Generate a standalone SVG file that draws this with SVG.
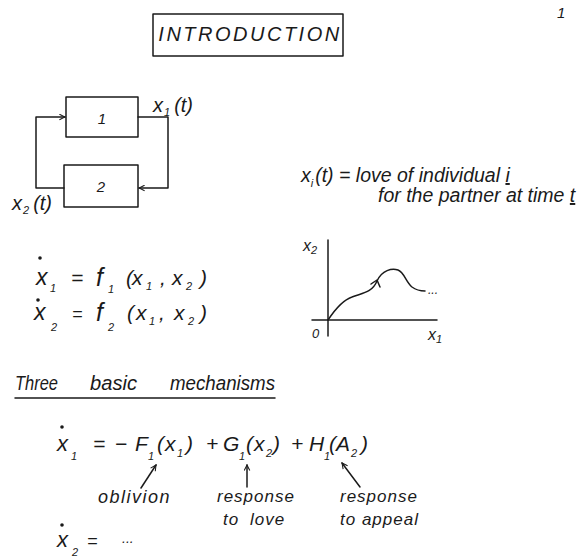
<svg xmlns="http://www.w3.org/2000/svg" width="582" height="558" viewBox="0 0 582 558">
<style>
.t{font-family:"Liberation Sans",Arial,sans-serif;font-style:italic;fill:#1a1a1a;}
.b{font-size:21px;}
.s{font-size:11px;}
.m{font-size:15px;}
.a{font-size:17px;letter-spacing:1px;}
.ln{fill:none;stroke:#1a1a1a;stroke-width:1.5;stroke-linecap:round;stroke-linejoin:round;}
.d{fill:#1a1a1a;}
</style>
<defs>
<marker id="ah" viewBox="0 0 10 10" refX="9" refY="5" markerWidth="7" markerHeight="7" markerUnits="userSpaceOnUse" orient="auto">
<path d="M1,1 L9,5 L1,9" fill="none" stroke="#1a1a1a" stroke-width="1.5"/>
</marker>
</defs>
<rect width="582" height="558" fill="#fff"/>

<g id="title">
<rect x="153" y="14" width="190" height="42" class="ln"/>
<text x="250" y="41" text-anchor="middle" class="t" font-size="20" letter-spacing="2.5">INTRODUCTION</text>
</g>
<text x="557" y="18" class="t" font-size="15">1</text>

<g id="box1">
<rect x="66" y="97" width="72" height="40" class="ln"/>
<text x="102" y="124" text-anchor="middle" class="t m">1</text>
</g>
<g id="box2">
<rect x="64" y="165" width="74" height="42" class="ln"/>
<text x="101" y="192" text-anchor="middle" class="t m">2</text>
</g>
<g id="connectors">
<path d="M138,117 H168 V188 H139" class="ln" marker-end="url(#ah)"/>
<path d="M64,188 H36 V117 H65" class="ln" marker-end="url(#ah)"/>
</g>
<g id="labels">
<text x="153" y="112" class="t" font-size="20">x<tspan class="s" dy="4" dx="1">1</tspan><tspan dy="-4" dx="4">(t)</tspan></text>
<text x="12" y="210" class="t" font-size="20">x<tspan class="s" dy="4" dx="1">2</tspan><tspan dy="-4" dx="4">(t)</tspan></text>
</g>

<text x="301" y="182" class="t" font-size="19.5">x<tspan class="s" dy="5">i</tspan><tspan dy="-5" dx="2">(t) = love of individual </tspan><tspan text-decoration="underline">i</tspan></text>
<text x="378" y="202" class="t" font-size="19.5">for the partner at time <tspan text-decoration="underline">t</tspan></text>

<g id="eqs">
<circle cx="40" cy="258" r="1.8" class="d"/>
<text x="36" y="285" class="t" font-size="23">x</text><text x="50" y="292" class="t s">1</text>
<text x="71" y="285" class="t b">=</text>
<text x="96" y="286" class="t" font-size="25">f</text><text x="108" y="293" class="t s">1</text>
<text x="126" y="285" class="t b">(</text>
<text x="132" y="285" class="t b">x</text><text x="146" y="290" class="t s">1</text>
<text x="160" y="285" class="t b">,</text>
<text x="172" y="285" class="t b">x</text><text x="186" y="290" class="t s">2</text>
<text x="200" y="285" class="t b">)</text>
<circle cx="38" cy="300" r="1.8" class="d"/>
<text x="34" y="320" class="t" font-size="23">x</text><text x="51" y="331" class="t s">2</text>
<text x="72" y="320" class="t" font-size="18">=</text>
<text x="96" y="321" class="t" font-size="25">f</text><text x="108" y="331" class="t s">2</text>
<text x="127" y="320" class="t b">(</text>
<text x="136" y="320" class="t b">x</text><text x="149" y="325" class="t s">1</text>
<text x="159" y="320" class="t b">,</text>
<text x="174" y="320" class="t b">x</text><text x="188" y="325" class="t s">2</text>
<text x="200" y="320" class="t b">)</text>
</g>

<g id="graph">
<path d="M328,240 V336" class="ln"/>
<path d="M312,320 H437" class="ln"/>
<path d="M328,320 C336,308 343,300 352,297 C362,293 372,293 377,281 C382,270 392,268 398,270 C404,272 406,282 412,287 C416,290 420,291 425,291" class="ln"/>
<path d="M371,284 L377,280 L380,287" class="ln"/>
<text x="428" y="294" class="t" font-size="12">...</text>
<text x="303" y="251" class="t" font-size="16">x<tspan class="s" dy="3">2</tspan></text>
<text x="312" y="338" class="t" font-size="13">0</text>
<text x="428" y="340" class="t" font-size="16">x<tspan class="s" dy="3">1</tspan></text>
</g>

<g id="heading">
<text x="15" y="390" class="t" font-size="20" textLength="43" lengthAdjust="spacingAndGlyphs">Three</text>
<text x="90" y="390" class="t" font-size="20" textLength="47" lengthAdjust="spacingAndGlyphs">basic</text>
<text x="170" y="390" class="t" font-size="20" textLength="105" lengthAdjust="spacingAndGlyphs">mechanisms</text>
<path d="M15,398 H275" class="ln"/>
</g>

<g id="eq3">
<circle cx="62" cy="427" r="1.8" class="d"/>
<text x="57" y="451" class="t" font-size="22">x</text><text x="71" y="460" class="t s">1</text>
<text x="93" y="451" class="t b">=</text>
<text x="115" y="451" class="t b">−</text>
<text x="135" y="451" class="t b">F</text><text x="148" y="460" class="t s">1</text>
<text x="157" y="451" class="t b">(</text><text x="165" y="451" class="t b">x</text><text x="177" y="457" class="t s">1</text><text x="186" y="451" class="t b">)</text>
<text x="206" y="451" class="t b">+</text>
<text x="223" y="451" class="t b">G</text><text x="239" y="460" class="t s">1</text>
<text x="246" y="451" class="t b">(</text><text x="254" y="451" class="t b">x</text><text x="266" y="457" class="t s">2</text><text x="273" y="451" class="t b">)</text>
<text x="291" y="451" class="t b">+</text>
<text x="309" y="451" class="t b">H</text><text x="324" y="460" class="t s">1</text>
<text x="329" y="451" class="t b">(</text><text x="336" y="451" class="t b">A</text><text x="351" y="457" class="t s">2</text><text x="361" y="451" class="t b">)</text>
</g>
<g id="annot">
<path d="M141,488 L156,465" class="ln" marker-end="url(#ah)"/>
<path d="M247,487 V465" class="ln" marker-end="url(#ah)"/>
<path d="M360,487 L342,463" class="ln" marker-end="url(#ah)"/>
<text x="98" y="503" class="t" font-size="18" letter-spacing="1.5">oblivion</text>
<text x="217" y="502" class="t a">response</text>
<text x="223" y="525" class="t a" word-spacing="5">to love</text>
<text x="340" y="502" class="t a">response</text>
<text x="340" y="525" class="t a">to appeal</text>
</g>
<circle cx="62" cy="525" r="1.8" class="d"/>
<text x="57" y="547" class="t" font-size="22">x</text><text x="72" y="556" class="t s">2</text>
<text x="87" y="547" class="t" font-size="18">=</text>
<text x="122" y="543" class="t" font-size="14">...</text>
</svg>
